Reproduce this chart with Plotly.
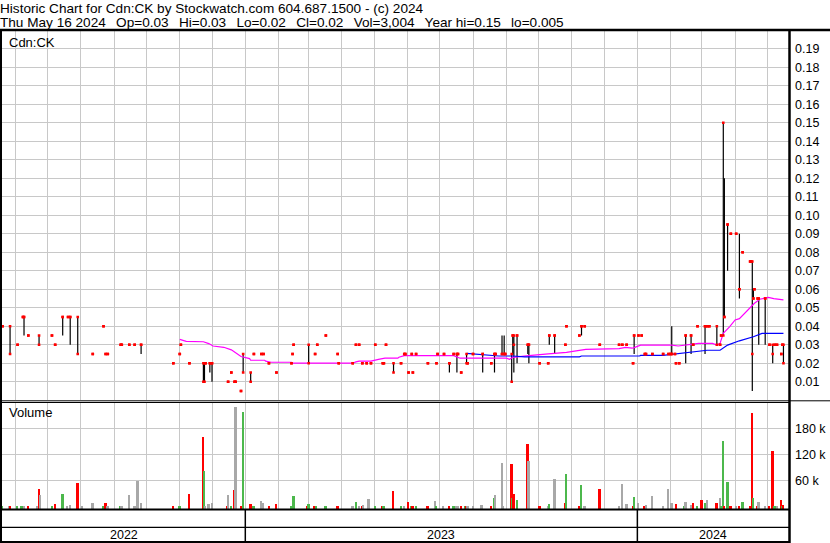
import plotly.graph_objects as go
from datetime import datetime

# ---------------- data ----------------
price_dates = [
    "2022-05-20","2022-05-27","2022-06-03","2022-06-08","2022-06-09","2022-06-13","2022-06-23","2022-07-05","2022-07-08","2022-07-15",
    "2022-07-20","2022-07-22","2022-07-29","2022-08-12","2022-08-22","2022-08-24","2022-08-26","2022-09-07","2022-09-08","2022-09-15",
    "2022-09-20","2022-09-26","2022-10-26","2022-11-01","2022-11-02","2022-11-10","2022-11-23","2022-11-24","2022-11-25","2022-11-29",
    "2022-12-01","2022-12-16","2022-12-19","2022-12-22","2022-12-23","2022-12-28","2022-12-30","2023-01-06","2023-01-09","2023-01-16",
    "2023-01-18","2023-01-23","2023-01-30","2023-02-13","2023-02-14","2023-02-15","2023-03-01","2023-03-07","2023-03-09","2023-03-17",
    "2023-03-28","2023-03-29","2023-04-11","2023-04-14","2023-04-17","2023-04-20","2023-04-24","2023-04-28","2023-05-02","2023-05-09",
    "2023-05-10","2023-05-12","2023-05-19","2023-05-26","2023-05-29","2023-05-30","2023-06-02","2023-06-05","2023-06-06","2023-06-09",
    "2023-06-20","2023-06-28","2023-06-29","2023-07-05","2023-07-10","2023-07-14","2023-07-17","2023-07-18","2023-07-21","2023-07-26",
    "2023-07-27","2023-08-01","2023-08-10","2023-08-18","2023-08-21","2023-08-22","2023-08-28","2023-08-30","2023-08-31","2023-09-06",
    "2023-09-07","2023-09-08","2023-09-11","2023-09-21","2023-09-22","2023-10-02","2023-10-10","2023-10-11","2023-10-16","2023-10-26",
    "2023-10-27","2023-11-08","2023-11-10","2023-11-13","2023-11-27","2023-12-15","2023-12-18","2023-12-22","2023-12-28","2023-12-29",
    "2024-01-02","2024-01-05","2024-01-08","2024-01-09","2024-01-15","2024-01-25","2024-01-30","2024-02-01","2024-02-02","2024-02-05",
    "2024-02-06","2024-02-09","2024-02-15","2024-02-20","2024-02-22","2024-02-26","2024-03-04","2024-03-06","2024-03-08","2024-03-15",
    "2024-03-18","2024-03-19","2024-03-21","2024-03-22","2024-03-25","2024-03-28","2024-04-02","2024-04-05","2024-04-08","2024-04-15",
    "2024-04-16","2024-04-17","2024-04-18","2024-04-19","2024-04-22","2024-04-23","2024-04-29","2024-05-03","2024-05-06","2024-05-08",
    "2024-05-10","2024-05-14","2024-05-15","2024-05-16",
]
opens = [
    .04,.04,.03,.045,.045,.035,.035,.035,.03,.045,
    .045,.045,.045,.025,.04,.025,.025,.03,.03,.03,
    .03,.03,.02,.025,.03,.02,.02,.01,.02,.02,
    .02,.01,.015,.01,.01,.005,.025,.015,.025,.025,
    .025,.02,.015,.02,.025,.03,.03,.025,.03,.035,
    .025,.02,.02,.03,.03,.02,.02,.02,.03,.02,
    .02,.03,.02,.02,.025,.025,.015,.025,.015,.025,
    .02,.02,.025,.025,.02,.025,.025,.025,.015,.025,
    .02,.025,.025,.02,.025,.025,.025,.025,.025,.025,
    .035,.035,.035,.03,.03,.02,.02,.035,.035,.03,
    .04,.035,.04,.04,.03,.03,.03,.03,.02,.035,
    .035,.035,.025,.025,.025,.025,.025,.025,.025,.025,
    .02,.02,.035,.035,.03,.04,.04,.04,.04,.04,
    .03,.035,.035,.045,.095,.09,.09,.06,.08,.075,
    .075,.075,.055,.06,.055,.055,.055,.03,.03,.03,
    .03,.025,.03,.03,
]
highs = [
    .04,.04,.03,.045,.045,.035,.035,.035,.03,.045,
    .045,.045,.045,.025,.04,.025,.025,.03,.03,.03,
    .03,.03,.02,.025,.03,.02,.02,.02,.02,.02,
    .02,.01,.015,.01,.01,.005,.025,.015,.025,.025,
    .025,.02,.015,.02,.025,.03,.03,.025,.03,.035,
    .025,.02,.02,.03,.03,.02,.02,.02,.03,.02,
    .02,.03,.02,.02,.025,.025,.015,.025,.015,.025,
    .02,.02,.025,.025,.02,.025,.025,.025,.015,.025,
    .02,.025,.025,.02,.025,.025,.035,.035,.025,.025,
    .035,.035,.035,.03,.03,.02,.02,.035,.035,.03,
    .04,.035,.04,.04,.03,.03,.03,.03,.02,.035,
    .035,.035,.025,.025,.025,.025,.025,.025,.04,.025,
    .02,.02,.035,.035,.03,.04,.04,.04,.04,.04,
    .03,.035,.15,.12,.095,.09,.09,.09,.08,.075,
    .075,.075,.06,.06,.055,.055,.055,.03,.03,.03,
    .03,.025,.03,.03,
]
lows = [
    .04,.025,.03,.045,.035,.035,.03,.035,.03,.035,
    .045,.03,.025,.025,.04,.025,.025,.03,.03,.03,
    .03,.025,.02,.025,.03,.02,.01,.01,.02,.015,
    .01,.01,.015,.01,.01,.005,.015,.01,.025,.025,
    .025,.02,.015,.02,.025,.03,.02,.025,.03,.035,
    .025,.02,.02,.03,.03,.02,.02,.02,.03,.02,
    .02,.03,.015,.02,.025,.025,.015,.025,.015,.025,
    .02,.02,.025,.025,.015,.025,.015,.025,.015,.02,
    .02,.025,.015,.02,.015,.025,.025,.025,.025,.01,
    .025,.015,.02,.025,.02,.02,.02,.03,.025,.03,
    .04,.035,.035,.04,.03,.03,.03,.03,.02,.025,
    .035,.035,.025,.025,.025,.025,.025,.025,.025,.025,
    .02,.02,.02,.025,.03,.04,.025,.04,.04,.03,
    .03,.035,.035,.045,.07,.09,.09,.055,.08,.075,
    .075,.005,.055,.06,.055,.03,.03,.03,.02,.03,
    .03,.025,.03,.02,
]
closes = [
    .04,.025,.03,.045,.045,.035,.03,.035,.03,.045,
    .045,.045,.025,.025,.04,.025,.025,.03,.03,.03,
    .03,.03,.02,.025,.03,.02,.01,.02,.02,.02,
    .02,.01,.015,.01,.01,.005,.015,.01,.025,.025,
    .025,.02,.015,.02,.025,.03,.02,.025,.03,.035,
    .025,.02,.02,.03,.03,.02,.02,.02,.03,.02,
    .02,.03,.015,.02,.025,.025,.015,.025,.015,.025,
    .02,.02,.025,.025,.02,.025,.025,.025,.015,.02,
    .02,.025,.025,.02,.025,.025,.025,.025,.025,.01,
    .035,.03,.035,.03,.03,.02,.02,.035,.035,.03,
    .04,.035,.04,.04,.03,.03,.03,.03,.02,.035,
    .035,.035,.025,.025,.025,.025,.025,.025,.025,.025,
    .02,.02,.035,.035,.03,.04,.04,.04,.04,.03,
    .03,.035,.15,.045,.095,.09,.09,.06,.08,.075,
    .075,.025,.055,.06,.055,.055,.055,.03,.025,.03,
    .03,.025,.03,.02,
]

vol_dates = [
    "2022-05-20","2022-05-26","2022-05-27","2022-06-03","2022-06-07","2022-06-09","2022-06-13","2022-06-21","2022-06-23","2022-06-24",
    "2022-07-05","2022-07-08","2022-07-15","2022-07-19","2022-07-22","2022-07-29","2022-08-02","2022-08-12","2022-08-22","2022-08-24",
    "2022-08-26","2022-09-07","2022-09-08","2022-09-15","2022-09-20","2022-09-23","2022-09-26","2022-10-26","2022-11-01","2022-11-10",
    "2022-11-23","2022-11-24","2022-11-25","2022-11-28","2022-12-01","2022-12-15","2022-12-16","2022-12-19","2022-12-22","2022-12-23",
    "2022-12-28","2022-12-30","2023-01-06","2023-01-09","2023-01-16","2023-01-17","2023-01-18","2023-01-23","2023-01-30","2023-02-13",
    "2023-02-14","2023-02-15","2023-02-28","2023-03-01","2023-03-06","2023-03-08","2023-03-17","2023-03-28","2023-04-11","2023-04-14",
    "2023-04-17","2023-04-20","2023-04-21","2023-04-26","2023-05-02","2023-05-09","2023-05-10","2023-05-19","2023-05-26","2023-05-29",
    "2023-06-02","2023-06-05","2023-06-06","2023-06-09","2023-06-20","2023-06-27","2023-06-28","2023-07-04","2023-07-10","2023-07-14",
    "2023-07-17","2023-07-18","2023-07-21","2023-07-25","2023-07-26","2023-07-27","2023-08-01","2023-08-09","2023-08-18","2023-08-21",
    "2023-08-22","2023-08-28","2023-08-29","2023-09-06","2023-09-07","2023-09-08","2023-09-11","2023-09-21","2023-09-22","2023-10-02",
    "2023-10-10","2023-10-11","2023-10-16","2023-10-26","2023-10-27","2023-11-08","2023-11-10","2023-11-13","2023-11-27","2023-12-15",
    "2023-12-18","2023-12-22","2023-12-28","2023-12-29","2024-01-02","2024-01-08","2024-01-09","2024-01-15","2024-01-25","2024-01-30",
    "2024-02-02","2024-02-06","2024-02-14","2024-02-15","2024-02-20","2024-02-22","2024-02-26","2024-03-01","2024-03-04","2024-03-06",
    "2024-03-15","2024-03-18","2024-03-19","2024-03-21","2024-03-22","2024-03-25","2024-03-28","2024-04-02","2024-04-05","2024-04-08",
    "2024-04-15","2024-04-17","2024-04-18","2024-04-22","2024-04-23","2024-04-29","2024-05-03","2024-05-06","2024-05-08","2024-05-10",
    "2024-05-14","2024-05-15","2024-05-16",
]
volumes = [
    500,1000,1500,1000,500,1000,500,500,40000,26000,
    500,6000,28500,1000,2000,54000,1000,8000,500,8000,
    1000,500,1000,26000,500,58000,8000,1000,1000,28000,
    160000,82000,1000,5000,8000,500,26000,500,38000,229000,
    1000,218000,5000,500,12000,3000,8000,500,5000,500,
    500,24000,500,5000,500,500,500,500,500,10000,
    1000,500,3000,17000,1000,500,500,35000,500,1000,
    10000,1000,500,500,1000,12000,500,500,1000,1000,
    1000,500,500,500,500,500,1000,3000,500,19000,
    26000,100000,500,98000,20000,28000,15000,144000,105000,500,
    500,5000,63000,8000,75000,500,49000,500,40000,500,
    51500,5000,500,21500,8000,1500,3000,24000,500,40000,
    8000,5000,500,10000,3000,8000,500,15000,8000,15000,
    8000,19000,500,151000,1000,56000,500,1000,500,10000,
    500,215000,19000,500,10000,500,500,128000,1000,500,
    15000,500,3004,
]
vol_dir = [
    "u","n","d","u","u","n","d","n","d","n",
    "u","d","u","n","n","d","n","n","u","d",
    "n","u","n","n","n","n","n","d","u","d",
    "d","u","n","n","n","d","n","u","d","n",
    "d","u","d","u","n","n","n","d","d","u",
    "u","u","d","u","d","u","u","d","n","u",
    "n","d","n","n","u","d","u","d","u","n",
    "d","u","d","u","d","n","u","n","d","u",
    "n","n","d","u","d","n","n","n","d","u",
    "n","n","n","d","u","d","u","d","n","d",
    "n","u","n","d","u","d","u","n","d","n",
    "n","n","d","u","n","d","n","n","n","n",
    "n","d","u","n","n","d","u","d","u","n",
    "d","n","u","u","d","u","d","n","d","u",
    "d","d","u","d","n","n","d","d","u","n",
    "d","u","d",
]

ma_fast_dates = [
    "2022-11-01","2022-11-07","2022-11-23","2022-11-28","2022-12-02","2022-12-12","2022-12-19","2022-12-23","2022-12-28","2023-01-05",
    "2023-01-06","2023-01-19","2023-01-20","2023-01-25","2023-02-13","2023-02-14","2023-04-11","2023-04-14","2023-04-17","2023-04-28",
    "2023-05-01","2023-05-05","2023-05-11","2023-05-23","2023-05-24","2023-05-26","2023-05-29","2023-07-14","2023-07-18","2023-07-20",
    "2023-09-01","2023-09-04","2023-09-07","2023-09-18","2023-09-22","2023-10-10","2023-10-20","2023-10-27","2023-11-02","2023-11-10",
    "2023-11-14","2023-12-15","2023-12-21","2023-12-27","2023-12-29","2024-01-04","2024-02-02","2024-02-08","2024-02-15","2024-02-27",
    "2024-03-11","2024-03-15","2024-03-18","2024-03-21","2024-03-27","2024-04-01","2024-04-05","2024-04-10","2024-04-15","2024-04-19",
    "2024-04-24","2024-05-02","2024-05-07","2024-05-13","2024-05-16",
]
ma_fast = [
    .0329,.0318,.0316,.0306,.0293,.0286,.0272,.0255,.0236,.0225,
    .0216,.0216,.0211,.0205,.0205,.0200,.0200,.0207,.0211,.0211,
    .0216,.0221,.0227,.0227,.0232,.0236,.0241,.0241,.0232,.0227,
    .0227,.0221,.0232,.0236,.0241,.0250,.0254,.0259,.0264,.0270,
    .0275,.0279,.0286,.0281,.0284,.0298,.0298,.0293,.0298,.0307,
    .0307,.0298,.0307,.0361,.0398,.0434,.0441,.0470,.0497,.0524,
    .0546,.0556,.0549,.0546,.0542,
]
ma_slow_dates = [
    "2023-07-26","2023-08-04","2023-08-14","2023-08-25","2023-09-07","2023-09-18","2023-11-08","2023-11-10","2024-01-03","2024-01-04",
    "2024-01-25","2024-02-02","2024-02-16","2024-03-06","2024-03-18","2024-03-25","2024-04-05","2024-04-18","2024-04-26","2024-05-16",
]
ma_slow = [
    .0253,.0250,.0244,.0239,.0239,.0234,.0234,.0239,.0239,.0242,
    .0242,.0248,.0259,.0270,.0270,.0298,.0321,.0343,.0361,.0361,
]

price_ticks = [0.01, 0.02, 0.03, 0.04, 0.05, 0.06, 0.07, 0.08, 0.09, 0.10,
               0.11, 0.12, 0.13, 0.14, 0.15, 0.16, 0.17, 0.18, 0.19]
volume_ticks = [60000, 120000, 180000]
volume_tick_labels = ["60 k", "120 k", "180 k"]
years = [2022, 2023, 2024]

GAP = "\u00a0\u2009 "
header_line1 = "Historic Chart for Cdn:CK by Stockwatch.com 604.687.1500 - (c) 2024"
header_line2 = GAP.join(["Thu May 16 2024", "Op=0.03", "Hi=0.03", "Lo=0.02", "Cl=0.02",
                         "Vol=3,004", "Year hi=0.15", "lo=0.005"])
symbol_label = "Cdn:CK"
volume_label = "Volume"

# ---------------- layout constants ----------------
W, H = 830, 543
L, R, T, B = 2, 789, 30, 509          # plot area in pixels
X_START, X_END = "2022-05-19 12:00", "2024-05-21 04:00"
PRICE_RANGE = [0, 0.2001]
VOL_RANGE = [-6200, 238400]
FONT = "Liberation Sans, Arial, sans-serif"
GRID = "#C8C8C8"
RED, GREEN, GRAY = "#FF0000", "#4CB84C", "#A8A8A8"
vol_colors = {"d": RED, "u": GREEN, "n": GRAY}


def px(xp):
    return (xp - L) / (R - L)


def py(yp):
    return (B - yp) / (B - T)


fig = go.Figure()

# high-low bars
seg_x, seg_y = [], []
for d, h, lo in zip(price_dates, highs, lows):
    if h > lo:
        seg_x += [d, d, None]
        seg_y += [lo, h, None]
fig.add_trace(go.Scatter(x=seg_x, y=seg_y, mode="lines", line=dict(color="black", width=1.2),
                         xaxis="x", yaxis="y", hoverinfo="skip"))

# moving averages
fig.add_trace(go.Scatter(x=ma_fast_dates, y=ma_fast, mode="lines",
                         line=dict(color="#FF00FF", width=1.2), xaxis="x", yaxis="y"))
fig.add_trace(go.Scatter(x=ma_slow_dates, y=ma_slow, mode="lines",
                         line=dict(color="#0000FF", width=1.2), xaxis="x", yaxis="y"))

# open / close marks
fig.add_trace(go.Scatter(x=price_dates + price_dates, y=opens + closes, mode="markers",
                         marker=dict(symbol="square", size=2.6, color=RED, line=dict(width=0)),
                         xaxis="x", yaxis="y"))

# volume bars
fig.add_trace(go.Bar(x=vol_dates, y=[v - VOL_RANGE[0] for v in volumes], base=VOL_RANGE[0],
                     marker=dict(color=[vol_colors[k] for k in vol_dir], line=dict(width=0)),
                     width=1.7 * 86400000, xaxis="x", yaxis="y2"))

axis_font = dict(family=FONT, size=12.5, color="black")
fig.update_layout(
    width=W, height=H,
    margin=dict(l=L, r=W - R, t=T, b=H - B, pad=0),
    paper_bgcolor="white", plot_bgcolor="white",
    showlegend=False, bargap=0,
    font=dict(family=FONT, size=13, color="black"),
    xaxis=dict(type="date", range=[X_START, X_END], anchor="y2",
               showgrid=True, gridcolor=GRID, gridwidth=1,
               dtick="M1", tick0="2022-06-01", showticklabels=False,
               ticks="", zeroline=False, showline=False, fixedrange=True),
    yaxis=dict(domain=[py(400.2), 1], range=PRICE_RANGE, side="right", anchor="x",
               tickmode="array", tickvals=price_ticks, tickformat=".2f",
               showgrid=True, gridcolor=GRID, gridwidth=1, zeroline=False,
               showline=False, ticks="", tickfont=axis_font, ticklabelstandoff=5),
    yaxis2=dict(domain=[0, py(403)], range=VOL_RANGE, side="right", anchor="x",
                tickmode="array", tickvals=volume_ticks, ticktext=volume_tick_labels,
                showgrid=True, gridcolor=GRID, gridwidth=1, zeroline=False,
                showline=False, ticks="", tickfont=axis_font, ticklabelstandoff=5),
)

# frame lines
def hline(y, x0, x1, w=1.0):
    fig.add_shape(type="line", xref="paper", yref="paper", x0=px(x0), x1=px(x1),
                  y0=py(y), y1=py(y), line=dict(color="black", width=w), layer="above")


def vline(x, y0, y1, w=1.0):
    fig.add_shape(type="line", xref="paper", yref="paper", x0=px(x), x1=px(x),
                  y0=py(y0), y1=py(y1), line=dict(color="black", width=w), layer="above")


hline(30, 0, W, 2.5)
vline(1, 30, 542.5, 2)
vline(789.5, 30, H, 2.5)
hline(400.8, 0, W, 1)
hline(402.5, 0, 789, 1)
hline(509.5, 0, 789, 2)
hline(527.3, 0, 789, 1.2)
hline(542, 0, 789, 2)

# year dividers and labels on the time axis
x0_dt = datetime.fromisoformat(X_START)
x1_dt = datetime.fromisoformat(X_END)
for yr in years:
    start = datetime(yr, 1, 1)
    end = datetime(yr + 1, 1, 1)
    if start > x0_dt:
        fig.add_shape(type="line", xref="x", yref="paper", x0=start, x1=start,
                      y0=py(509), y1=py(542), line=dict(color="black", width=1.5), layer="above")
    a = max(start, x0_dt)
    b = min(end, x1_dt)
    mid = a + (b - a) / 2
    fig.add_annotation(x=mid, xref="x", y=py(535), yref="paper", text=str(yr),
                       showarrow=False, xanchor="center", yanchor="middle",
                       font=dict(family=FONT, size=12.5, color="black"))

# texts
def label(text, x, y, size=13.6):
    fig.add_annotation(x=px(x), y=py(y), xref="paper", yref="paper", text=text,
                       showarrow=False, xanchor="left", yanchor="top", borderpad=0,
                       font=dict(family=FONT, size=size, color="black"))


label(header_line1, -1, -0.3)
label(header_line2, -1, 13.8)
label(symbol_label, 8, 33.5, 13)
label(volume_label, 8, 404, 13)

fig.write_html("out.html", config={"displayModeBar": False},
               post_script="document.body.style.margin='0';document.body.style.overflow='hidden';")
